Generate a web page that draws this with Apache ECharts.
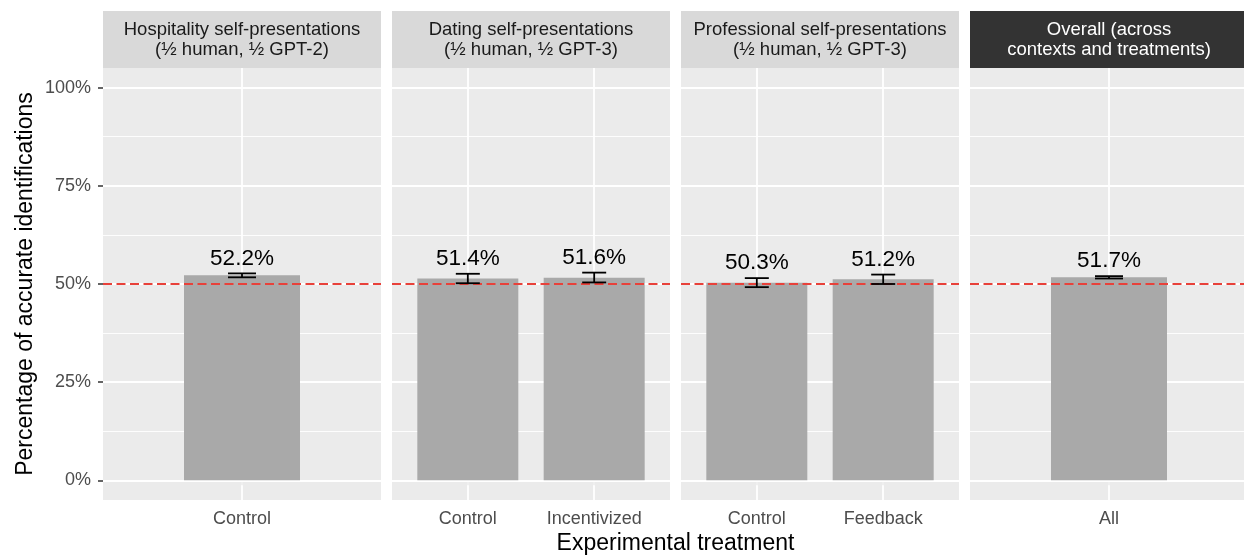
<!DOCTYPE html>
<html><head><meta charset="utf-8">
<script src="https://cdn.jsdelivr.net/npm/echarts@6/dist/echarts.min.js"></script>
<style>html,body{margin:0;padding:0;background:#fff}#c{width:1244px;height:558px}</style>
</head><body><div id="c"></div>
<script>
// ---- data ----
const panelTitles = [
  'Hospitality self-presentations\n(½ human, ½ GPT-2)',
  'Dating self-presentations\n(½ human, ½ GPT-3)',
  'Professional self-presentations\n(½ human, ½ GPT-3)',
  'Overall (across\ncontexts and treatments)'
];
const panelCategories = [['Control'], ['Control', 'Incentivized'], ['Control', 'Feedback'], ['All']];
const accuracyValues = [[52.2], [51.4, 51.6], [50.3, 51.2], [51.7]];
const lowerValues = [[51.7], [50.2, 50.4], [49.2, 50.0], [51.4]];
const upperValues = [[52.7], [52.6, 52.9], [51.5, 52.4], [52.0]];
const yTickValues = [0, 25, 50, 75, 100];
const yMinorValues = [12.5, 37.5, 62.5, 87.5];
const chanceLevel = 50;
const yLimits = [-5, 105];
const xTitle = 'Experimental treatment';
const yTitle = 'Percentage of accurate identifications';

// ---- layout / style ----
const FONT = "'Liberation Sans', Arial, Helvetica, sans-serif";
const panelLeft = [103, 392, 681, 970];
const panelW = 278, panelTop = 68, panelH = 432;
const stripTop = 11, stripH = 57;
const barWidths = [116, 101, 101, 116];
const whiskerWidths = [28, 24, 24, 28];
const stripFill = ['#d9d9d9', '#d9d9d9', '#d9d9d9', '#333333'];
const stripText = ['#1a1a1a', '#1a1a1a', '#1a1a1a', '#ffffff'];

const grids = [], xAxes = [], yAxes = [], series = [], graphics = [];

panelCategories.forEach((cats, i) => {
  const n = cats.length;
  const unit = panelW / (n - 1 + 1.2);
  const axisW = n * unit;
  const off = (panelW - axisW) / 2;
  const bg = 2 * i, dg = 2 * i + 1;

  grids.push({ left: panelLeft[i], top: panelTop, width: panelW, height: panelH,
    show: true, backgroundColor: '#ebebeb', borderWidth: 0, containLabel: false, outerBoundsMode: 'none', z: 0 });
  grids.push({ left: panelLeft[i] + off, top: panelTop, width: axisW, height: panelH,
    show: false, containLabel: false, outerBoundsMode: 'none' });

  xAxes.push({ type: 'value', gridIndex: bg, min: 0, max: 1, show: false });
  xAxes.push({ type: 'category', gridIndex: dg, data: cats, boundaryGap: true,
    axisLine: { show: false },
    axisTick: { show: true, alignWithLabel: true, length: 5, lineStyle: { color: '#333333', width: 1.5 } },
    axisLabel: { color: '#4d4d4d', fontSize: 18, margin: 10, fontFamily: FONT },
    splitLine: { show: false } });

  yAxes.push({ type: 'value', gridIndex: bg, min: yLimits[0], max: yLimits[1], show: i === 0,
    axisLine: { show: false },
    axisTick: { show: i === 0, length: 5, customValues: yTickValues, lineStyle: { color: '#333333', width: 1.5 } },
    axisLabel: { show: i === 0, customValues: yTickValues, formatter: '{value}%', color: '#4d4d4d',
      fontSize: 18, margin: 12, fontFamily: FONT },
    splitLine: { show: false }, minorSplitLine: { show: false } });
  yAxes.push({ type: 'value', gridIndex: dg, min: yLimits[0], max: yLimits[1], show: false });

  // horizontal grid lines (under bars)
  series.push({ type: 'line', xAxisIndex: bg, yAxisIndex: bg, data: [], z: 1, silent: true,
    markLine: { z: 1, silent: true, symbol: ['none', 'none'], label: { show: false }, animation: false,
      data: yTickValues.map(v => ({ yAxis: v, lineStyle: { color: '#ffffff', width: 1.8, type: 'solid' } }))
        .concat(yMinorValues.map(v => ({ yAxis: v, lineStyle: { color: '#ffffff', width: 0.9, type: 'solid' } }))) } });
  // vertical grid lines at categories (under bars)
  series.push({ type: 'line', xAxisIndex: dg, yAxisIndex: dg, data: [], z: 1, silent: true,
    markLine: { z: 1, silent: true, symbol: ['none', 'none'], label: { show: false }, animation: false,
      data: cats.map((c, j) => ({ xAxis: j, lineStyle: { color: '#ffffff', width: 1.8, type: 'solid' } })) } });
  // bars
  series.push({ type: 'bar', xAxisIndex: dg, yAxisIndex: dg, data: accuracyValues[i], barWidth: barWidths[i],
    itemStyle: { color: '#a9a9a9' }, z: 3, silent: true, animation: false });
  // chance line
  series.push({ type: 'line', xAxisIndex: bg, yAxisIndex: bg, data: [], z: 5, silent: true,
    markLine: { z: 5, silent: true, symbol: ['none', 'none'], label: { show: false }, animation: false,
      data: [{ yAxis: chanceLevel, lineStyle: { color: '#e8413a', width: 1.8, type: [9, 4.5] } }] } });
  // error bars + labels
  const hw = whiskerWidths[i] / 2;
  series.push({ type: 'custom', xAxisIndex: dg, yAxisIndex: dg, z: 6, silent: true, animation: false,
    data: cats.map((c, j) => [j, lowerValues[i][j], upperValues[i][j], accuracyValues[i][j]]),
    encode: { x: 0, y: [1, 2] },
    renderItem: (params, api) => {
      const lo = api.coord([api.value(0), api.value(1)]);
      const hi = api.coord([api.value(0), api.value(2)]);
      const st = { stroke: '#000000', lineWidth: 1.8 };
      return { type: 'group', children: [
        { type: 'line', shape: { x1: lo[0], y1: lo[1], x2: hi[0], y2: hi[1] }, style: st },
        { type: 'line', shape: { x1: lo[0] - hw, y1: lo[1], x2: lo[0] + hw, y2: lo[1] }, style: st },
        { type: 'line', shape: { x1: hi[0] - hw, y1: hi[1], x2: hi[0] + hw, y2: hi[1] }, style: st },
        { type: 'text', x: hi[0], y: hi[1] - 3.5, z2: 10, style: {
          text: api.value(3).toFixed(1) + '%', fill: '#000000', fontSize: 22.5, fontFamily: FONT,
          align: 'center', verticalAlign: 'bottom' } }
      ] };
    } });

  // strip
  graphics.push({ type: 'rect', shape: { x: panelLeft[i], y: stripTop, width: panelW, height: stripH },
    style: { fill: stripFill[i] }, silent: true });
  graphics.push({ type: 'text', x: panelLeft[i] + panelW / 2, y: stripTop + stripH / 2 + 0.5, silent: true,
    style: { text: panelTitles[i], fill: stripText[i], fontSize: 18.5, lineHeight: 19.5, fontFamily: FONT,
      align: 'center', verticalAlign: 'middle' } });
});

graphics.push({ type: 'text', x: (panelLeft[0] + panelLeft[3] + panelW) / 2, y: 544, silent: true,
  style: { text: xTitle, fill: '#000000', fontSize: 23, fontFamily: FONT, align: 'center', verticalAlign: 'middle' } });
graphics.push({ type: 'text', x: 26, y: panelTop + panelH / 2, rotation: Math.PI / 2, silent: true,
  style: { text: yTitle, fill: '#000000', fontSize: 23, fontFamily: FONT, align: 'center', verticalAlign: 'middle' } });

const chart = echarts.init(document.getElementById('c'), null, { renderer: 'canvas' });
chart.setOption({
  animation: false,
  backgroundColor: '#ffffff',
  textStyle: { fontFamily: FONT },
  grid: grids, xAxis: xAxes, yAxis: yAxes, series: series,
  graphic: { elements: graphics }
});
</script></body></html>
